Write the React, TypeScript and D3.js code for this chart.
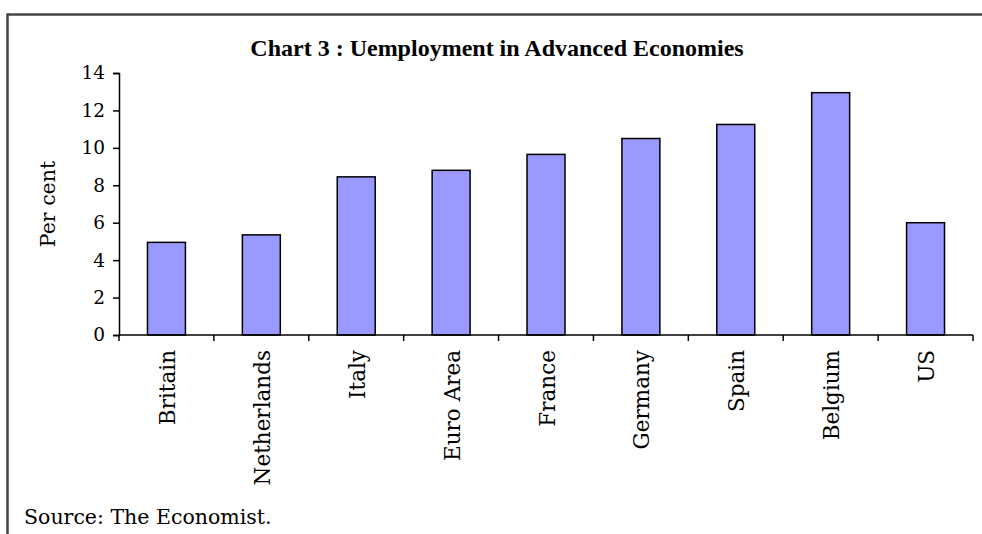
import React, { useRef, useEffect } from 'react';
import * as d3 from 'd3';

const categories = ['Britain', 'Netherlands', 'Italy', 'Euro Area', 'France', 'Germany', 'Spain', 'Belgium', 'US'];
const values = [4.95, 5.35, 8.45, 8.8, 9.65, 10.5, 11.25, 12.95, 6.0];
const yTicks = [0, 2, 4, 6, 8, 10, 12, 14];

const title = 'Chart 3 : Uemployment in Advanced Economies';
const yLabel = 'Per cent';
const source = 'Source: The Economist.';

const W = 982;
const H = 534;
const margin = { left: 119, right: 9, top: 73, bottom: 199 };
const titleFont = '"Liberation Serif", "Times New Roman", serif';
const font = '"DejaVu Serif", serif';

const App: React.FC = () => {
  const xAxisRef = useRef<SVGGElement | null>(null);
  const yAxisRef = useRef<SVGGElement | null>(null);

  const x = d3
    .scaleBand<string>()
    .domain(categories)
    .range([margin.left, W - margin.right])
    .paddingInner(0.6)
    .paddingOuter(0.3);

  const xEdges = d3
    .scaleBand<string>()
    .domain(categories)
    .range([margin.left, W - margin.right]);

  const y = d3
    .scaleLinear()
    .domain([0, 14])
    .range([H - margin.bottom, margin.top]);

  useEffect(() => {
    const yAxis = d3.axisLeft<number>(y).tickValues(yTicks).tickSize(6).tickPadding(8);
    const gy = d3.select(yAxisRef.current!).call(yAxis);
    gy.select('.domain').attr('stroke', '#000').attr('stroke-width', 1.5);
    gy.selectAll('.tick line').attr('stroke', '#000').attr('stroke-width', 1.5);
    gy.selectAll('.tick text')
      .attr('font-family', font)
      .attr('font-size', 18.5)
      .attr('fill', '#000');

    // x axis: ticks at band boundaries, labels rotated
    const gx = d3.select(xAxisRef.current!);
    gx.selectAll('*').remove();
    const [x0, x1] = xEdges.range();
    gx.append('line')
      .attr('x1', x0).attr('x2', x1)
      .attr('y1', y(0)).attr('y2', y(0))
      .attr('stroke', '#000').attr('stroke-width', 1.5);
    const edges = categories.map((c) => xEdges(c)!).concat([x1]);
    gx.selectAll('line.tk')
      .data(edges)
      .join('line')
      .attr('class', 'tk')
      .attr('x1', (d) => d).attr('x2', (d) => d)
      .attr('y1', y(0)).attr('y2', y(0) + 6)
      .attr('stroke', '#000').attr('stroke-width', 1.5);
    gx.selectAll('text')
      .data(categories)
      .join('text')
      .attr('transform', (d) => `translate(${xEdges(d)! + xEdges.bandwidth() / 2 + 8.5},${y(0) + 15}) rotate(-90)`)
      .attr('text-anchor', 'end')
      .attr('font-family', font)
      .attr('font-size', 21.5)
      .attr('fill', '#000')
      .text((d) => d);
  }, []);

  return (
    <div style={{ position: 'absolute', left: 0, top: 0 }}>
      <svg width={W} height={H} style={{ display: 'block', background: '#fff' }}>
        <path d={`M7.5,${H + 5}V14.5H${W + 5}`} fill="none" stroke="#444" strokeWidth={2.5} />
        <text x={497} y={56} textAnchor="middle" fontFamily={titleFont} fontWeight="bold" fontSize={24}>
          {title}
        </text>
        <text
          transform={`translate(55,${(y(0) + y(14)) / 2}) rotate(-90)`}
          textAnchor="middle"
          fontFamily={font}
          fontSize={20.5}
        >
          {yLabel}
        </text>
        {categories.map((c, i) => (
          <rect
            key={c}
            x={x(c)}
            y={y(values[i])}
            width={x.bandwidth()}
            height={y(0) - y(values[i])}
            fill="#9999ff"
            stroke="#000"
            strokeWidth={1.5}
          />
        ))}
        <g ref={yAxisRef} transform={`translate(${margin.left},0)`} />
        <g ref={xAxisRef} />
        <text x={24} y={524} fontFamily={font} fontSize={20.5}>
          {source}
        </text>
      </svg>
    </div>
  );
};

export default App;
